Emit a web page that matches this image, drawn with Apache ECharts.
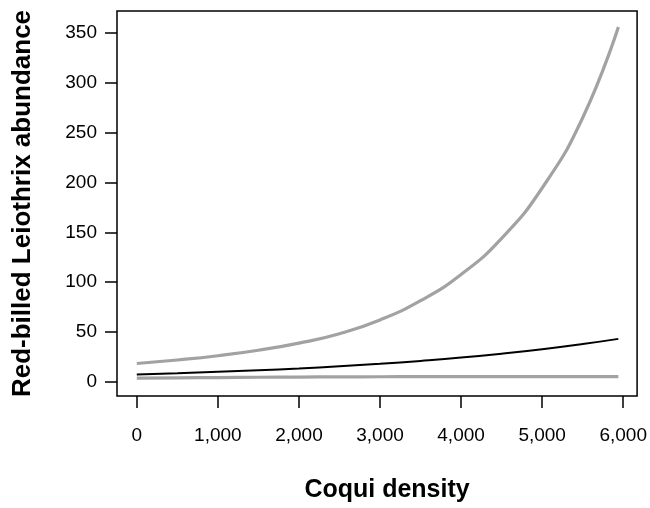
<!DOCTYPE html>
<html>
<head>
<meta charset="utf-8">
<script src="https://cdn.jsdelivr.net/npm/echarts@6/dist/echarts.min.js"></script>
<style>
html,body{margin:0;padding:0;background:#fff;}
#chart{width:650px;height:508px;}
</style>
</head>
<body>
<div id="chart"></div>
<script>
// Coqui density (x) values along the fitted curves
const coquiDensity = [0, 500, 1000, 1500, 2000, 2500, 3000, 3500, 4000, 4500, 5000, 5500, 5940];
// Upper confidence limit (gray)
const upperCI = [18.5, 22.0, 26.3, 31.8, 38.9, 48.4, 62.2, 81.5, 107.8, 144, 194.5, 265, 356];
// Fitted abundance (black)
const fitted = [7.5, 8.7, 10.1, 11.7, 13.5, 15.7, 18.2, 21.1, 24.4, 28.3, 32.8, 38.0, 43.2];
// Lower confidence limit (gray)
const lowerCI = [3.8, 4.1, 4.4, 4.7, 4.9, 5.1, 5.2, 5.3, 5.3, 5.4, 5.4, 5.4, 5.4];
// Tick values
const xTicks = [0, 1000, 2000, 3000, 4000, 5000, 6000];
const yTicks = [0, 50, 100, 150, 200, 250, 300, 350];

const pair = ys => coquiDensity.map((x, i) => [x, ys[i]]);
const FONT = '"Liberation Sans", Arial, Helvetica, sans-serif';

const chart = echarts.init(document.getElementById('chart'), null, {renderer: 'canvas'});
chart.setOption({
  animation: false,
  backgroundColor: '#fff',
  grid: {left: 117, top: 11, right: 7, bottom: 106, show: true, borderColor: '#000', borderWidth: 1.5, backgroundColor: 'transparent'},
  xAxis: {
    type: 'value', min: -244, max: 6171,
    name: 'Coqui density', nameLocation: 'middle', nameGap: 82,
    nameTextStyle: {fontFamily: FONT, fontSize: 25, fontWeight: 'bold', color: '#000', padding: [0, 0, 0, 20]},
    axisLine: {show: false, onZero: false},
    splitLine: {show: false},
    axisTick: {show: true, inside: false, length: 12, customValues: xTicks, lineStyle: {color: '#000', width: 1.5}},
    axisLabel: {customValues: xTicks, margin: 30, fontFamily: FONT, fontSize: 19, color: '#000',
      formatter: v => v.toLocaleString('en-US')}
  },
  yAxis: {
    type: 'value', min: -14.1, max: 372,
    name: 'Red-billed Leiothrix abundance', nameLocation: 'middle', nameGap: 81,
    nameTextStyle: {fontFamily: FONT, fontSize: 26, fontWeight: 'bold', color: '#000'},
    axisLine: {show: false, onZero: false},
    splitLine: {show: false},
    axisTick: {show: true, inside: false, length: 12, customValues: yTicks, lineStyle: {color: '#000', width: 1.5}},
    axisLabel: {customValues: yTicks, margin: 20, fontFamily: FONT, fontSize: 19, color: '#000'}
  },
  series: [
    {type: 'line', name: 'Upper', data: pair(upperCI), smooth: 0.5, showSymbol: false,
      lineStyle: {color: '#a2a2a2', width: 3.2}, z: 2},
    {type: 'line', name: 'Lower', data: pair(lowerCI), smooth: 0.5, showSymbol: false,
      lineStyle: {color: '#a2a2a2', width: 3.2}, z: 2},
    {type: 'line', name: 'Fitted', data: pair(fitted), smooth: 0.5, showSymbol: false,
      lineStyle: {color: '#000', width: 2}, z: 3}
  ]
});
</script>
</body>
</html>
